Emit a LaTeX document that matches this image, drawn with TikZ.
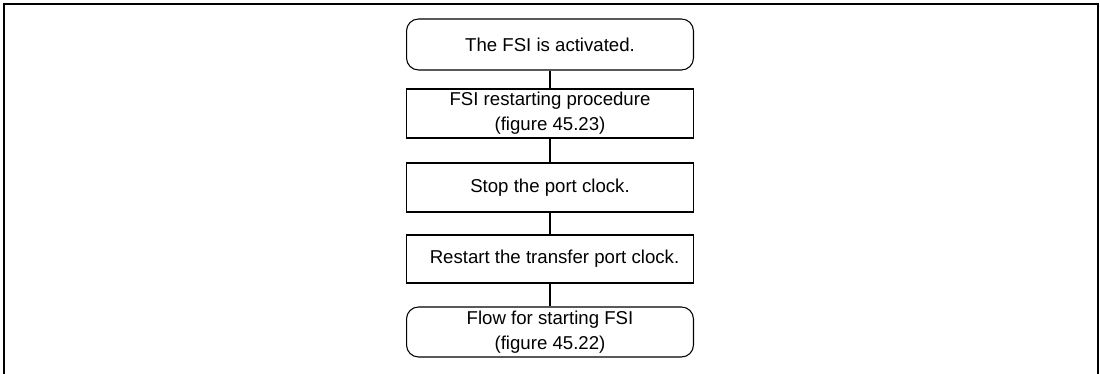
\documentclass[tikz,border=0pt]{standalone}
\usepackage{fontspec}
\setmainfont{Liberation Sans}
\usepackage{tikz}
\usetikzlibrary{positioning}

\begin{document}
\begin{tikzpicture}[x=0.02cm, y=-0.02cm,
    box/.style={draw, line width=0.6pt, minimum width=5.74cm, minimum height=0.98cm,
        inner sep=0pt, align=center, font=\fontsize{10.6}{14.4}\selectfont},
    terminal/.style={box, rounded corners=0.24cm},
    link/.style={line width=0.6pt}]
    \useasboundingbox (0,0) rectangle (1100,374);

    % Outer frame (open at the bottom)
    \draw[line width=1.2pt] (4,380) -- (4,4) -- (1098,4) -- (1098,380);

    % Steps
    \node[terminal, minimum height=1.02cm] (activated) at (550,44.5) {The FSI is activated.};
    \node[box] (restartproc) at (550,113.5) {FSI restarting procedure\\(figure 45.23)};
    \node[box] (stopclk) at (550,187.5) {Stop the port clock.};
    \node[box, minimum height=0.96cm] (restartclk) at (550,259) {\hspace*{0.18cm}Restart the transfer port clock.};
    \node[terminal, minimum height=1.0cm] (startflow) at (550,332) {Flow for starting FSI\\(figure 45.22)};

    % Connectors
    \draw[link] (activated) -- (restartproc);
    \draw[link] (restartproc) -- (stopclk);
    \draw[link] (stopclk) -- (restartclk);
    \draw[link] (restartclk) -- (startflow);
\end{tikzpicture}
\end{document}
